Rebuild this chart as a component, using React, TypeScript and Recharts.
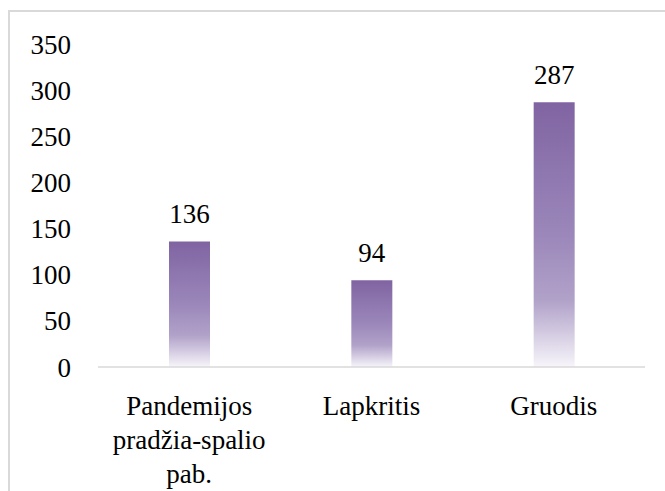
import React from 'react';
import { BarChart, Bar, XAxis, YAxis, LabelList } from 'recharts';

// line breaks follow the original axis labels
const categories = ['Pandemijos\npradžia-spalio\npab.', 'Lapkritis', 'Gruodis'];
const values = [136, 94, 287];
const yTicks = [0, 50, 100, 150, 200, 250, 300, 350];

const data = categories.map((name, i) => ({ name, value: values[i] }));

const FONT = '"Liberation Serif", "Times New Roman", serif';

const CategoryTick = (props: any) => {
  const { x, y, payload } = props;
  const lines = String(payload.value).split('\n');
  return (
    <text
      x={x}
      y={y + 40}
      textAnchor="middle"
      fill="#000"
      fontFamily={FONT}
      fontSize={27}
    >
      {lines.map((line, i) => (
        <tspan key={i} x={x} dy={i === 0 ? 0 : 34}>
          {line}
        </tspan>
      ))}
    </text>
  );
};

const App: React.FC = () => {
  return (
    <div
      style={{
        position: 'absolute',
        left: 8,
        top: 10,
        width: 657,
        height: 481,
        borderTop: '2px solid #d9d9d9',
        borderLeft: '2px solid #d9d9d9',
        boxSizing: 'border-box',
        background: '#fff',
        fontFamily: FONT,
      }}
    >
      <BarChart
        width={655}
        height={479}
        data={data}
        margin={{ top: 32, right: 20, left: 0, bottom: 0 }}
      >
        <defs>
          <linearGradient id="barFill" x1="0" y1="0" x2="0" y2="1">
            <stop offset="0%" stopColor="#8064A2" />
            <stop offset="50%" stopColor="#9b87ba" />
            <stop offset="75%" stopColor="#b1a2c9" />
            <stop offset="100%" stopColor="#f7f5fa" />
          </linearGradient>
        </defs>
        <XAxis
          dataKey="name"
          height={124}
          axisLine={{ stroke: '#d9d9d9', strokeWidth: 1.5 }}
          tickLine={false}
          interval={0}
          tick={<CategoryTick />}
        />
        <YAxis
          width={88}
          domain={[0, 350]}
          ticks={yTicks}
          axisLine={false}
          tickLine={false}
          tickMargin={21}
          tick={{ fill: '#000', fontSize: 27, fontFamily: FONT }}
        />
        <Bar dataKey="value" fill="url(#barFill)" barSize={41} isAnimationActive={false}>
          <LabelList
            dataKey="value"
            position="top"
            offset={18}
            fill="#000"
            fontFamily={FONT}
            fontSize={27}
          />
        </Bar>
      </BarChart>
    </div>
  );
};

export default App;
